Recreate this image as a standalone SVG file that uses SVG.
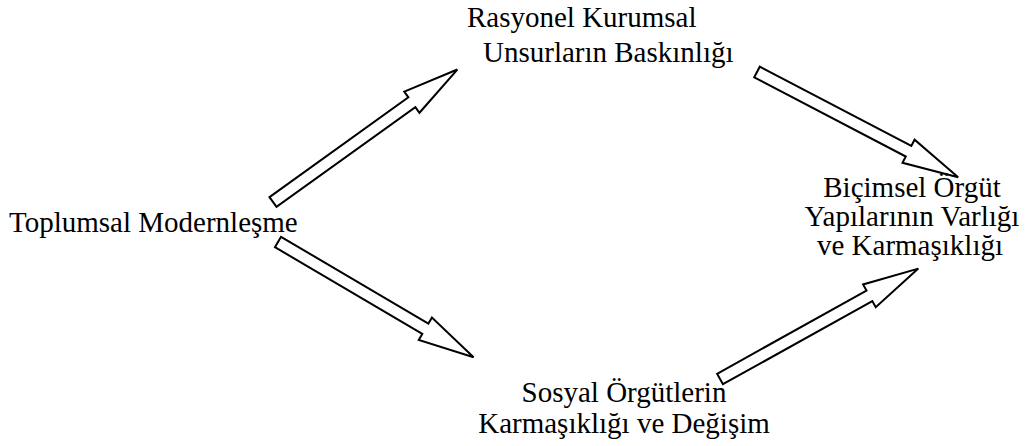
<svg xmlns="http://www.w3.org/2000/svg" xmlns:xlink="http://www.w3.org/1999/xlink" width="1033" height="446" viewBox="0 0 1033 446">
<style>
  text { font-family: 'Liberation Serif', 'Times New Roman', Times, serif; font-size: 29px; fill: #000; }
  .arr { fill: #fff; stroke: #000; stroke-width: 2; stroke-linejoin: miter; }
</style>
<defs>
  <polygon id="blockArrow" class="arr" points="0,-6 171,-6 171,-13 227,0 171,13 171,6 0,6"/>
</defs>
<rect width="1033" height="446" fill="#fff"/>
<g id="connectors">
  <use xlink:href="#blockArrow" transform="translate(273,202) rotate(-35.7)"/>
  <use xlink:href="#blockArrow" transform="translate(278,242) rotate(30.5)"/>
  <use xlink:href="#blockArrow" transform="translate(757,72) rotate(27.6)"/>
  <use xlink:href="#blockArrow" transform="translate(720,379) rotate(-29.1)"/>
</g>
<g id="node-toplumsal">
  <text font-family="Liberation Serif, serif" x="9" y="232">Toplumsal Modernleşme</text>
</g>
<g id="node-rasyonel">
  <text font-family="Liberation Serif, serif" x="467" y="27">Rasyonel Kurumsal</text>
  <text font-family="Liberation Serif, serif" x="483" y="62">Unsurların Baskınlığı</text>
</g>
<g id="node-sosyal">
  <text font-family="Liberation Serif, serif" text-anchor="middle" x="624" y="402">Sosyal Örgütlerin</text>
  <text font-family="Liberation Serif, serif" text-anchor="middle" x="624" y="433">Karmaşıklığı ve Değişim</text>
</g>
<g id="node-bicimsel">
  <text font-family="Liberation Serif, serif" text-anchor="middle" x="912" y="197">Biçimsel Örgüt</text>
  <text font-family="Liberation Serif, serif" text-anchor="middle" x="912" y="226">Yapılarının Varlığı</text>
  <text font-family="Liberation Serif, serif" text-anchor="middle" x="910" y="255">ve Karmaşıklığı</text>
</g>
</svg>
